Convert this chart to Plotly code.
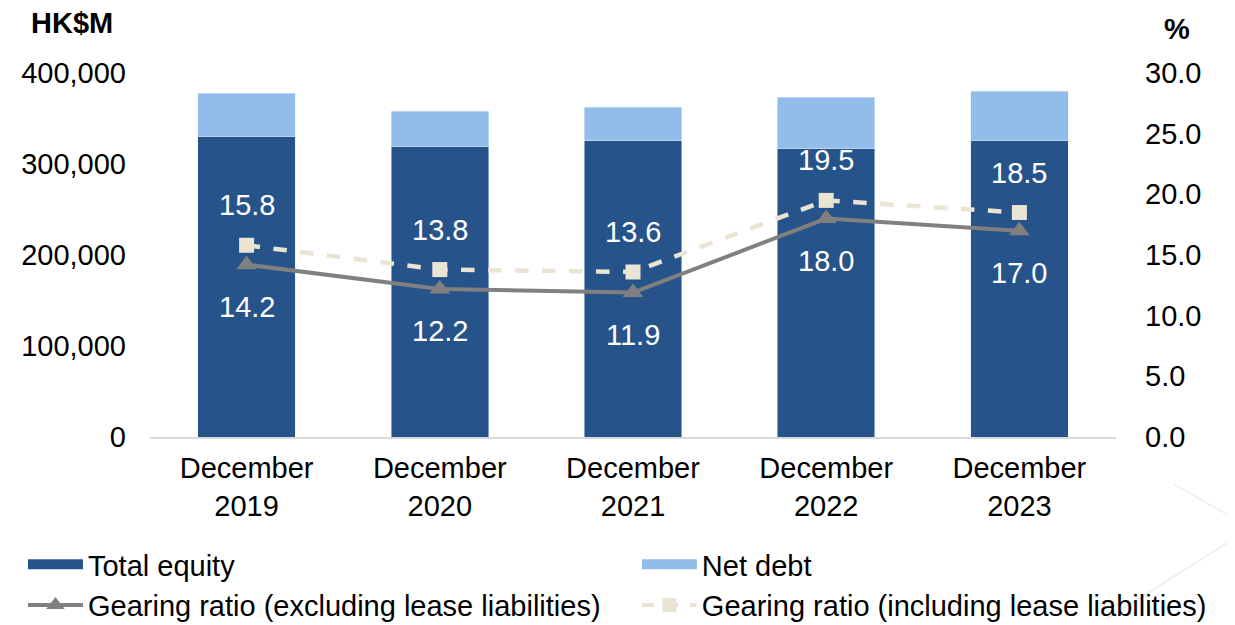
import plotly.graph_objects as go

years = ["December<br>2019", "December<br>2020", "December<br>2021", "December<br>2022", "December<br>2023"]
total_equity = [329700, 318700, 325300, 316500, 325300]
net_debt = [48300, 39500, 37300, 57100, 54900]
gearing_excl = [14.2, 12.2, 11.9, 18.0, 17.0]
gearing_incl = [15.8, 13.8, 13.6, 19.5, 18.5]

DARK = "#26548A"
LIGHT = "#92BDEA"
GREY = "#808080"
CREAM = "#EAE4D2"
FONT = "Liberation Sans, Arial, sans-serif"
FS = 29

fig = go.Figure()
fig.add_trace(go.Bar(x=years, y=total_equity, name="Total equity", marker_color=DARK,
                     showlegend=False))
fig.add_trace(go.Bar(x=years, y=net_debt, name="Net debt", marker_color=LIGHT,
                     showlegend=False))
fig.add_trace(go.Scatter(x=years, y=gearing_excl, yaxis="y2", mode="lines+markers",
                         name="Gearing ratio (excluding lease liabilities)",
                         line=dict(color=GREY, width=4),
                         marker=dict(symbol="triangle-up", size=18, color=GREY),
                         showlegend=False))
fig.add_trace(go.Scatter(x=years, y=gearing_incl, yaxis="y2", mode="lines+markers",
                         name="Gearing ratio (including lease liabilities)",
                         line=dict(color=CREAM, width=4.5, dash="dash"),
                         marker=dict(symbol="square", size=15, color=CREAM),
                         showlegend=False))

# legend entries (wide swatches like the original)
fig.add_trace(go.Scatter(x=[None], y=[None], mode="lines", name="Total equity",
                         line=dict(color=DARK, width=13), legend="legend"))
fig.add_trace(go.Scatter(x=[None], y=[None], mode="lines+markers",
                         name="Gearing ratio (excluding lease liabilities)",
                         line=dict(color=GREY, width=4),
                         marker=dict(symbol="triangle-up", size=16, color=GREY), legend="legend"))
fig.add_trace(go.Scatter(x=[None], y=[None], mode="lines", name="Net debt",
                         line=dict(color=LIGHT, width=13), legend="legend2"))
fig.add_trace(go.Scatter(x=[None], y=[None], mode="lines+markers",
                         name="Gearing ratio (including lease liabilities)",
                         line=dict(color=CREAM, width=4, dash="dash"),
                         marker=dict(symbol="square", size=14, color=CREAM), legend="legend2"))

annotations = []
for x, v in zip(years, gearing_incl):
    annotations.append(dict(x=x, y=v, yref="y2", text=f"{v:.1f}", showarrow=False,
                            yshift=40, font=dict(color="white", size=FS, family=FONT)))
for x, v in zip(years, gearing_excl):
    annotations.append(dict(x=x, y=v, yref="y2", text=f"{v:.1f}", showarrow=False,
                            yshift=-42, font=dict(color="white", size=FS, family=FONT)))
annotations.append(dict(x=-0.125, y=1.138, xref="paper", yref="paper", text="<b>HK$M</b>",
                        showarrow=False, xanchor="left", yanchor="middle",
                        font=dict(size=FS, family=FONT, color="black")))
annotations.append(dict(x=1.063, y=1.12, xref="paper", yref="paper", text="<b>%</b>",
                        showarrow=False, xanchor="center", yanchor="middle",
                        font=dict(size=FS, family=FONT, color="black")))

# page body adds an 8px offset, so the figure is drawn 8px smaller and shifted
fig.update_layout(
    barmode="stack",
    bargap=0.495,
    width=1227, height=617,
    margin=dict(l=142, r=119, t=65, b=188, autoexpand=False),
    paper_bgcolor="white", plot_bgcolor="white",
    font=dict(family=FONT, size=FS, color="black"),
    annotations=annotations,
    xaxis=dict(showline=True, linecolor="#D9D9D9", linewidth=2, ticks="",
               tickfont=dict(size=FS), automargin=False, ticklabelstandoff=4),
    yaxis=dict(range=[0, 400000], dtick=100000, tickformat=",.0f", showgrid=False,
               zeroline=False, ticklabelstandoff=23, automargin=False),
    yaxis2=dict(range=[0, 30], dtick=5, tickformat=".1f", overlaying="y", side="right",
                showgrid=False, zeroline=False, ticklabelstandoff=28, automargin=False),
    legend=dict(x=-0.1315, y=-0.28, xanchor="left", yanchor="top", itemwidth=55,
                traceorder="normal", tracegroupgap=0, font=dict(size=FS),
                bgcolor="rgba(0,0,0,0)"),
    legend2=dict(x=0.504, y=-0.28, xanchor="left", yanchor="top", itemwidth=55,
                 traceorder="normal", tracegroupgap=0, font=dict(size=FS),
                 bgcolor="rgba(0,0,0,0)"),
    shapes=[
        dict(type="line", xref="paper", yref="paper", x0=1.06, y0=-0.13, x1=1.14, y1=-0.25,
             line=dict(color="#E6EEF8", width=1.5)),
        dict(type="line", xref="paper", yref="paper", x0=1.14, y0=-0.25, x1=0.99, y1=-0.5,
             line=dict(color="#E6EEF8", width=1.5)),
    ],
)

fig.write_html("out.html")
